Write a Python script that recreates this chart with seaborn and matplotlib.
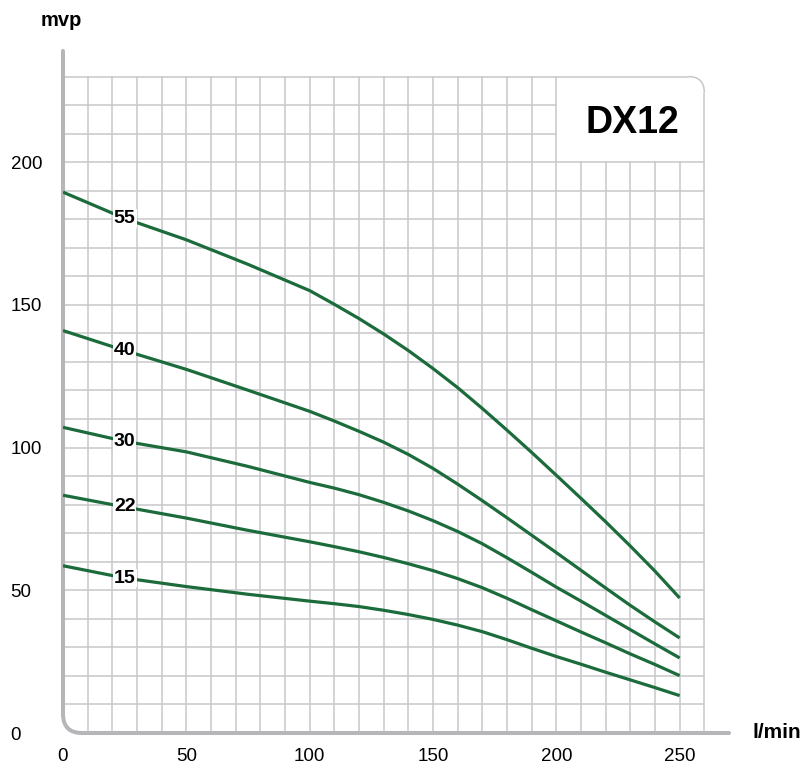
import pandas as pd
import numpy as np
import seaborn as sns
import matplotlib.pyplot as plt
from matplotlib.path import Path
from matplotlib.patches import PathPatch

# pump curves DX12 - head (mvp) vs flow (l/min)
flow = [0, 25, 50, 75, 100, 110, 120, 130, 140, 150, 160, 170, 180, 190, 200, 210, 220, 230, 240, 250]
head_15 = [58.6, 54.3, 51.3, 48.6, 46.2, 45.3, 44.3, 43.0, 41.5, 39.8, 37.8, 35.5, 32.7, 29.7, 26.8, 24.1, 21.3, 18.6, 15.9, 13.1]
head_22 = [83.3, 79.2, 75.3, 71.0, 67.0, 65.3, 63.5, 61.5, 59.3, 56.9, 54.1, 50.9, 47.2, 43.2, 39.3, 35.4, 31.6, 27.7, 24.0, 20.1]
head_30 = [107.1, 102.2, 98.5, 93.4, 87.8, 85.8, 83.5, 80.8, 77.8, 74.4, 70.6, 66.3, 61.4, 56.3, 51.1, 46.2, 41.2, 36.2, 31.2, 26.3]
head_40 = [141.0, 134.0, 127.4, 120.1, 112.7, 109.3, 105.7, 101.9, 97.6, 92.7, 87.2, 81.4, 75.4, 69.3, 63.2, 57.0, 50.8, 44.7, 38.9, 33.3]
head_55 = [189.5, 180.3, 172.8, 164.2, 155.0, 150.2, 145.2, 139.8, 134.0, 127.7, 121.0, 113.7, 106.1, 98.3, 90.3, 82.2, 74.0, 65.5, 56.7, 47.3]
models = ["15", "22", "30", "40", "55"]
x_ticks = [0, 50, 100, 150, 200, 250]
y_ticks = [0, 50, 100, 150, 200]
title = "DX12"

curves = {"15": head_15, "22": head_22, "30": head_30, "40": head_40, "55": head_55}
df = pd.concat([pd.DataFrame({"flow": flow, "head": v, "model": k}) for k, v in curves.items()])

sns.set_style("white")
plt.rcParams['font.family'] = ['Liberation Sans', 'DejaVu Sans']
plt.rcParams['text.color'] = 'black'
plt.rcParams['xtick.color'] = 'black'
plt.rcParams['ytick.color'] = 'black'

green = "#1b6b3b"
grid_c = "#c8c8cc"
axis_c = "#b6b6ba"

fig = plt.figure(figsize=(8.04, 7.63), dpi=100)
ax = fig.add_axes([63 / 804, 30 / 763, 666 / 804, 685 / 763])
ax.set_xlim(0, 270)
ax.set_ylim(0, 240)

# grid, with the title box left blank in the top right corner
for gx in range(10, 261, 10):
    top = 230 if gx <= 200 else 200
    if gx == 260:
        top = 224.4
    ax.plot([gx, gx], [0, top], color=grid_c, lw=1.1, zorder=1)
for gy in range(10, 231, 10):
    right = 260 if gy <= 200 else 200
    if gy == 230:
        right = 253.5
    ax.plot([0, right], [gy, gy], color=grid_c, lw=1.1, zorder=1)
corner = Path([(253.5, 230), (260, 230), (260, 224.4)],
              [Path.MOVETO, Path.CURVE3, Path.CURVE3])
ax.add_patch(PathPatch(corner, fill=False, edgecolor=grid_c, lw=1.1, zorder=1))

# rounded axis line
axis_path = Path([(0, 239), (0, 6.7), (0, 0), (7.7, 0), (270, 0)],
                 [Path.MOVETO, Path.LINETO, Path.CURVE3, Path.CURVE3, Path.LINETO])
ax.add_patch(PathPatch(axis_path, fill=False, edgecolor=axis_c, lw=2.9,
                       capstyle='round', zorder=2, clip_on=False))

sns.lineplot(data=df, x="flow", y="head", hue="model", hue_order=models,
             palette=[green] * len(models), legend=False, linewidth=2.3,
             solid_capstyle="butt", ax=ax, zorder=3)

for m in models:
    ax.text(flow[1], curves[m][1], m, ha="center", va="center", fontsize=14,
            fontweight="bold", zorder=4,
            bbox=dict(boxstyle="square,pad=0.05", fc="white", ec="none"))

ax.text(230.7, 213.8, title, ha="center", va="center", fontsize=27, fontweight="bold")
ax.text(-0.8, 249.7, "mvp", ha="center", va="center", fontsize=14.5,
        fontweight="bold", clip_on=False)
ax.text(279.4, 0, "l/min", ha="left", va="center", fontsize=15,
        fontweight="bold", clip_on=False)

ax.set_xticks(x_ticks)
ax.set_xticklabels([str(t) for t in x_ticks])
ax.set_yticks(y_ticks)
ax.set_yticklabels([str(t) for t in y_ticks])
ax.tick_params(axis="x", length=0, pad=10.5, labelsize=13.5)
ax.tick_params(axis="y", length=0, pad=37.8, labelsize=13.5)
for lab in ax.get_yticklabels():
    lab.set_ha("left")
ax.set_xlabel("")
ax.set_ylabel("")
for s in ax.spines.values():
    s.set_visible(False)

fig.savefig("out.png", dpi=100)
